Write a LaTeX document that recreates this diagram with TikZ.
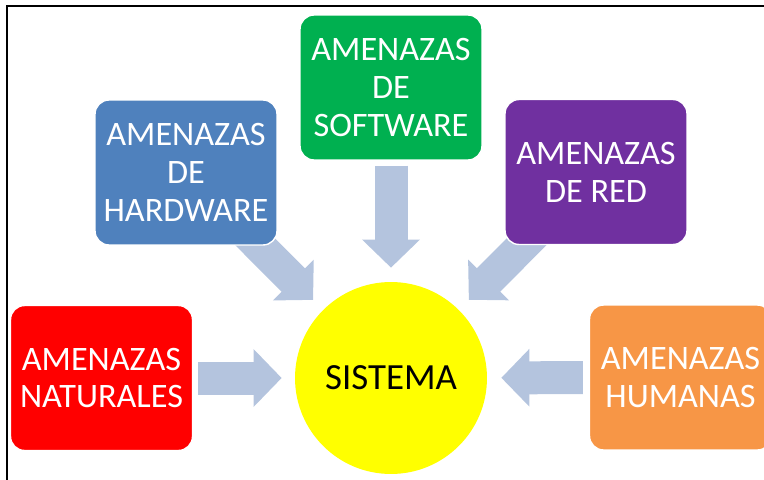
\documentclass[tikz,border=0pt]{standalone}
\usepackage{fontspec}
\setmainfont{Carlito}
\usetikzlibrary{arrows.meta,backgrounds}

\definecolor{hwblue}{RGB}{79,129,189}
\definecolor{swgreen}{RGB}{0,176,80}
\definecolor{netpurple}{RGB}{112,48,160}
\definecolor{natred}{RGB}{255,0,0}
\definecolor{humorange}{RGB}{247,150,70}
\definecolor{sysyellow}{RGB}{255,255,0}
\definecolor{arrowblue}{RGB}{180,196,222}

\begin{document}
\begin{tikzpicture}[x=0.02cm,y=-0.02cm]

              % Definitions
              \tikzstyle{Threat} = [rectangle, rounded corners=0.28cm, minimum width=3.64cm, minimum height=2.9cm, text centered, align=center, draw=white, line width=0.8pt, text=white, font=\fontsize{19.5}{21.6}\selectfont]
              \tikzstyle{arrow} = [draw=arrowblue, line width=0.66cm, -{Triangle[length=0.56cm,width=1.12cm]}]

              \useasboundingbox (0,0) rectangle (764,480);
              \clip (0,0) rectangle (764,480);
              \draw [line width=0.05cm] (7,500) -- (7,6) -- (790,6);

              \node (system) [circle, fill=sysyellow, minimum size=3.84cm, inner sep=0pt, font=\fontsize{21}{24}\selectfont] at (391,378) {SISTEMA};

              \node (hardware) [Threat, fill=hwblue] at (186,172.5) {AMENAZAS\\DE\\HARDWARE};
              \node (software) [Threat, fill=swgreen] at (391,87.5) {AMENAZAS\\DE\\SOFTWARE};
              \node (network) [Threat, fill=netpurple] at (596,172) {AMENAZAS\\DE RED};
              \node (natural) [Threat, fill=natred] at (101.5,378) {AMENAZAS\\NATURALES};
              \node (human) [Threat, fill=humorange] at (680.5,377.5) {AMENAZAS\\HUMANAS};

              \begin{pgfonlayer}{background}
              \draw [arrow, shorten >=0.28cm] (hardware.center) -- (system);
              \draw [arrow, shorten <=0.1cm, shorten >=0.28cm] (software) -- (system);
              \draw [arrow, shorten >=0.28cm] (network.center) -- (system);
              \draw [arrow, shorten <=0.1cm, shorten >=0.26cm] (natural) -- (system);
              \draw [arrow, shorten <=0.12cm, shorten >=0.28cm] (human) -- (system);
              \end{pgfonlayer}

\end{tikzpicture}
\end{document}
